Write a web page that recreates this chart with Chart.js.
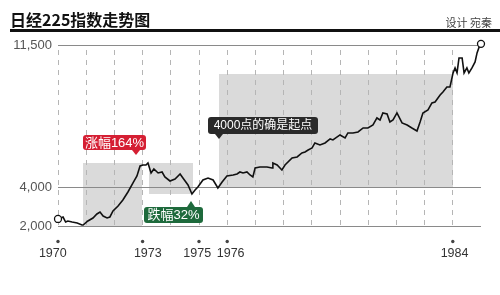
<!DOCTYPE html>
<html>
<head>
<meta charset="utf-8">
<script src="https://cdn.jsdelivr.net/npm/chart.js@4/dist/chart.umd.min.js"></script>
<style>
  html, body { margin: 0; padding: 0; background: #fff; }
  #wrap { position: relative; width: 500px; height: 295px; overflow: hidden; }
  #title { position: absolute; left: 10px; top: 7px; font: bold 16px "Noto Sans CJK SC", sans-serif; color: #111; letter-spacing: 0px; white-space: nowrap; }
  #rule { position: absolute; left: 10px; top: 29px; width: 490px; height: 3px; background: #111; }
  #credit { position: absolute; right: 8px; top: 14px; font: 11px "Noto Sans CJK SC", sans-serif; color: #444; white-space: nowrap; }
  canvas { position: absolute; left: 0; top: 0; }
</style>
</head>
<body>
<div id="wrap">
  <canvas id="c" width="500" height="295"></canvas>
  <div id="title">日经225指数走势图</div>
  <div id="rule"></div>
  <div id="credit">设计 宛秦</div>
</div>
<script>
// ---- data ----
const years = [1970.00,1970.18,1970.27,1970.35,1970.50,1970.68,1970.85,1970.89,1971.06,1971.24,1971.38,1971.49,1971.60,1971.74,1971.84,1971.95,1972.13,1972.30,1972.48,1972.66,1972.80,1972.91,1973.01,1973.12,1973.19,1973.30,1973.40,1973.55,1973.69,1973.79,1973.97,1974.15,1974.33,1974.43,1974.61,1974.75,1974.86,1974.96,1975.14,1975.32,1975.50,1975.67,1975.82,1975.99,1976.21,1976.35,1976.45,1976.56,1976.70,1976.81,1976.91,1976.99,1977.16,1977.41,1977.59,1977.62,1977.77,1977.94,1978.05,1978.30,1978.48,1978.65,1978.76,1978.87,1979.01,1979.11,1979.29,1979.47,1979.65,1979.75,1980.00,1980.18,1980.28,1980.46,1980.64,1980.82,1980.99,1981.17,1981.31,1981.42,1981.52,1981.67,1981.77,1981.88,1982.02,1982.20,1982.38,1982.55,1982.73,1982.84,1982.94,1983.12,1983.26,1983.37,1983.55,1983.65,1983.79,1983.90,1984.01,1984.08,1984.15,1984.22,1984.33,1984.40,1984.50,1984.57,1984.68,1984.79,1984.86,1984.96,1985.00];
const values = [2370,2470,2210,2263,2210,2158,2053,2053,2263,2420,2630,2735,2525,2420,2473,2788,3050,3365,3785,4258,4625,5150,5203,5203,5308,4783,4993,4783,4835,4573,4363,4468,4730,4520,4153,3680,3890,4048,4415,4520,4415,3995,4310,4625,4678,4730,4835,4783,4835,4678,4573,5045,5098,5098,5045,5308,5203,4940,5203,5570,5623,5833,5885,5990,6095,6358,6253,6358,6568,6515,6778,6620,6883,6883,6935,7145,7145,7303,7670,7565,7933,7880,7460,7565,7933,7408,7303,7145,6988,7460,7933,8090,8458,8510,8878,9035,9298,9298,10033,10295,10033,10820,10820,10033,10295,10033,10295,10610,11083,11500,11560];
const gridYears = [1970,1971,1972,1973,1974,1975,1976,1977,1978,1979,1980,1981,1982,1983,1984];
const labelYears = [1970,1973,1975,1976,1984];
const yTicks = [2000,4000,11500];
// shaded ranges
const rangeFrom = [1970.89,1973.23,1975.71];
const rangeTo   = [1972.98,1974.79,1984.00];
const rangeLow  = [2000,3680,4000];
const rangeHigh = [5300,5300,10000];
// callouts
const calloutTexts  = ['涨幅164%','跌幅32%','4000点的确是起点'];
const calloutYears  = [1972.77,1974.72,1975.71];
const calloutValues = [5730,3313,6568];

// ---- styling ----
const calloutStyle = [
  { color: '#d51f33', font: '13px "Liberation Sans","Noto Sans CJK SC",sans-serif', dx: -53, dy: -20, h: 15, w: 63, dir: 'down' },
  { color: '#1e6a3c', font: '13px "Liberation Sans","Noto Sans CJK SC",sans-serif', dx: -47, dy: 6, h: 16, w: 59, dir: 'up' },
  { color: '#2a2a2a', font: '12px "Liberation Sans","Noto Sans CJK SC",sans-serif', dx: -11, dy: -22, h: 17, w: 110, dir: 'down' }
];
// whitespace padding used to nudge crowded year labels (leading, trailing)
const labelPad = { 1970: [0, 3], 1973: [3, 0], 1975: [0, 1], 1976: [2, 0], 1984: [1, 0] };

const points = years.map((x, i) => ({ x: x, y: values[i] }));

function roundRect(ctx, x, y, w, h, r) {
  ctx.beginPath();
  ctx.moveTo(x + r, y);
  ctx.lineTo(x + w - r, y);
  ctx.quadraticCurveTo(x + w, y, x + w, y + r);
  ctx.lineTo(x + w, y + h - r);
  ctx.quadraticCurveTo(x + w, y + h, x + w - r, y + h);
  ctx.lineTo(x + r, y + h);
  ctx.quadraticCurveTo(x, y + h, x, y + h - r);
  ctx.lineTo(x, y + r);
  ctx.quadraticCurveTo(x, y, x + r, y);
  ctx.closePath();
}

const decor = {
  id: 'decor',
  beforeDraw(chart) {
    const { ctx, scales: { x, y } } = chart;
    ctx.save();
    ctx.fillStyle = '#dadada';
    for (let i = 0; i < rangeFrom.length; i++) {
      const x1 = Math.round(x.getPixelForValue(rangeFrom[i]));
      const x2 = Math.round(x.getPixelForValue(rangeTo[i]));
      const y1 = Math.round(y.getPixelForValue(rangeHigh[i]));
      const y2 = Math.round(y.getPixelForValue(rangeLow[i]));
      ctx.fillRect(x1, y1, x2 - x1, y2 - y1);
    }
    ctx.restore();
  },
  afterDraw(chart) {
    const { ctx, chartArea, scales: { x, y } } = chart;
    ctx.save();
    ctx.fillStyle = '#444';
    labelYears.forEach(v => {
      ctx.beginPath();
      ctx.arc(x.getPixelForValue(v), chartArea.bottom + 15.5, 1.7, 0, Math.PI * 2);
      ctx.fill();
    });
    calloutTexts.forEach((t, i) => {
      const s = calloutStyle[i];
      const tx = Math.round(x.getPixelForValue(calloutYears[i]));
      const ty = Math.round(y.getPixelForValue(calloutValues[i]));
      const bx = tx + s.dx, by = ty + s.dy;
      ctx.fillStyle = s.color;
      roundRect(ctx, bx, by, s.w, s.h, 3);
      ctx.fill();
      ctx.beginPath();
      if (s.dir === 'down') {
        ctx.moveTo(tx - 4, by + s.h); ctx.lineTo(tx + 4, by + s.h); ctx.lineTo(tx, ty);
      } else {
        ctx.moveTo(tx - 4, by); ctx.lineTo(tx + 4, by); ctx.lineTo(tx, ty);
      }
      ctx.closePath();
      ctx.fill();
      ctx.fillStyle = '#fff';
      ctx.font = s.font;
      ctx.textAlign = 'center';
      ctx.textBaseline = 'middle';
      ctx.fillText(t, bx + s.w / 2, by + s.h / 2 + 0.5);
    });
    ctx.restore();
  }
};

new Chart(document.getElementById('c'), {
  type: 'line',
  data: {
    datasets: [{
      data: points,
      borderColor: '#111',
      borderWidth: 1.6,
      tension: 0,
      clip: false,
      pointRadius: ctx => (ctx.dataIndex === 0 || ctx.dataIndex === points.length - 1) ? 3.5 : 0,
      pointBackgroundColor: '#fff',
      pointBorderColor: '#111',
      pointBorderWidth: 1.3
    }]
  },
  options: {
    responsive: false,
    devicePixelRatio: 1,
    animation: false,
    layout: { padding: { top: 45, right: 19, left: 0, bottom: 0 } },
    plugins: { legend: { display: false }, tooltip: { enabled: false } },
    scales: {
      x: {
        type: 'linear', min: 1970, max: 1985,
        afterBuildTicks: s => { s.ticks = gridYears.map(v => ({ value: v })); },
        afterFit: s => { s.height = 69; },
        ticks: {
          autoSkip: false, maxRotation: 0, padding: 20,
          color: '#333',
          font: { family: '"Liberation Sans", sans-serif', size: 12.5 },
          callback: v => {
            if (!labelYears.includes(v)) return '';
            const p = labelPad[v] || [0, 0];
            return '\u00a0'.repeat(p[0]) + String(v) + '\u00a0'.repeat(p[1]);
          }
        },
        grid: { color: '#b5b5b5', lineWidth: 1, drawTicks: false },
        border: { display: false, dash: [5, 5], dashOffset: 5 }
      },
      y: {
        min: 2000, max: 11500,
        afterBuildTicks: s => { s.ticks = yTicks.map(v => ({ value: v })); },
        afterFit: s => { s.width = 58; },
        ticks: {
          padding: 6, color: '#555',
          font: { family: '"Liberation Sans", sans-serif', size: 13 },
          callback: v => v.toLocaleString('en-US')
        },
        grid: { color: '#8a8a8a', lineWidth: 1, drawTicks: false },
        border: { display: false }
      }
    }
  },
  plugins: [decor]
});
</script>
</body>
</html>
